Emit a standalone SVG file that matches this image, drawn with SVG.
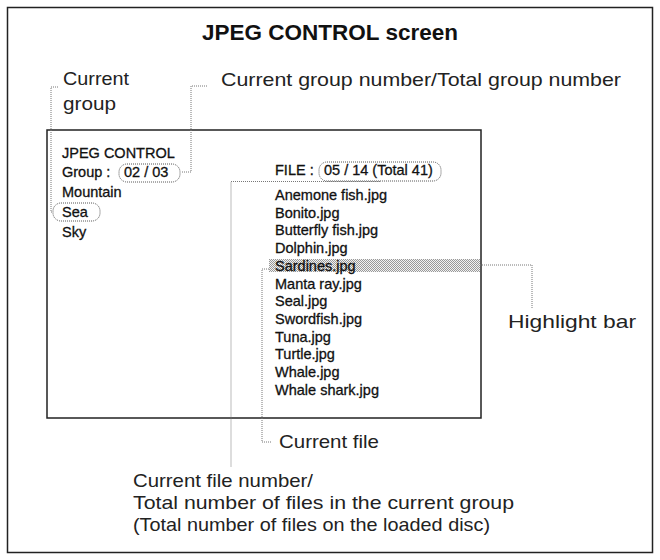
<svg xmlns="http://www.w3.org/2000/svg" width="660" height="560" viewBox="0 0 660 560">
<style>
.lbl{font-family:"Liberation Sans",Arial,sans-serif;font-size:18.5px;fill:#222}
.scr{font-family:"Liberation Sans",Arial,sans-serif;font-size:14.5px;fill:#111;stroke:#111;stroke-width:0.3}
.dot{fill:none;stroke:#777;stroke-width:1;stroke-dasharray:1 1}
.oval{fill:none;stroke:#555;stroke-width:1;stroke-dasharray:1 1}
</style>
<defs>
<pattern id="dither" width="2" height="2" patternUnits="userSpaceOnUse">
<rect width="2" height="2" fill="#f2f2f2"/>
<rect width="1" height="1" fill="#999"/>
<rect x="1" y="1" width="1" height="1" fill="#999"/>
</pattern>
</defs>
<rect x="7.5" y="7.5" width="645" height="545" fill="#fff" stroke="#222" stroke-width="1.5"/>
<text x="330" y="40" text-anchor="middle" style="font-family:'Liberation Sans',Arial,sans-serif;font-size:22.5px;font-weight:bold;fill:#111">JPEG CONTROL screen</text>
<g id="screen">
<rect x="47" y="130" width="434" height="288" fill="none" stroke="#222" stroke-width="1.5"/>
<rect id="highlight" x="269" y="259" width="211" height="13" fill="url(#dither)"/>
<text class="scr" x="62" y="158">JPEG CONTROL</text>
<text class="scr" x="62" y="177">Group : <tspan x="124">02 / 03</tspan></text>
<text class="scr" x="62" y="197">Mountain</text>
<text class="scr" x="62" y="217">Sea</text>
<text class="scr" x="62" y="237">Sky</text>
<text class="scr" x="275" y="175">FILE : <tspan x="324">05 / 14 (Total 41)</tspan></text>
<text class="scr" x="275" y="200">Anemone fish.jpg</text>
<text class="scr" x="275" y="217.7">Bonito.jpg</text>
<text class="scr" x="275" y="235.4">Butterfly fish.jpg</text>
<text class="scr" x="275" y="253.1">Dolphin.jpg</text>
<text class="scr" x="275" y="270.8">Sardines.jpg</text>
<text class="scr" x="275" y="288.5">Manta ray.jpg</text>
<text class="scr" x="275" y="306.2">Seal.jpg</text>
<text class="scr" x="275" y="323.9">Swordfish.jpg</text>
<text class="scr" x="275" y="341.6">Tuna.jpg</text>
<text class="scr" x="275" y="359.3">Turtle.jpg</text>
<text class="scr" x="275" y="377">Whale.jpg</text>
<text class="scr" x="275" y="394.7">Whale shark.jpg</text>
<rect class="oval" x="119" y="164" width="61" height="18" rx="8"/>
<rect class="oval" x="53" y="203" width="47" height="18" rx="8"/>
<rect class="oval" x="319" y="162" width="122" height="19" rx="8"/>
</g>
<g id="connectors">
<path class="dot" d="M58 87H51V212H53"/>
<path class="dot" d="M207 86H191V172H181"/>
<path class="dot" d="M380 181.5H231V467"/>
<path class="dot" d="M269 269H262V442H272"/>
<path class="dot" d="M480 265H532V308"/>
</g>
<g id="labels">
<text class="lbl" x="63" y="85" textLength="66" lengthAdjust="spacingAndGlyphs">Current</text>
<text class="lbl" x="63" y="110" textLength="53" lengthAdjust="spacingAndGlyphs">group</text>
<text class="lbl" x="221" y="86" textLength="400" lengthAdjust="spacingAndGlyphs">Current group number/Total group number</text>
<text class="lbl" x="508" y="328" textLength="128" lengthAdjust="spacingAndGlyphs">Highlight bar</text>
<text class="lbl" x="279" y="448" textLength="100" lengthAdjust="spacingAndGlyphs">Current file</text>
<text class="lbl" x="133" y="487" textLength="180" lengthAdjust="spacingAndGlyphs">Current file number/</text>
<text class="lbl" x="133" y="509" textLength="381" lengthAdjust="spacingAndGlyphs">Total number of files in the current group</text>
<text class="lbl" x="133" y="531" textLength="357" lengthAdjust="spacingAndGlyphs">(Total number of files on the loaded disc)</text>
</g>
</svg>
